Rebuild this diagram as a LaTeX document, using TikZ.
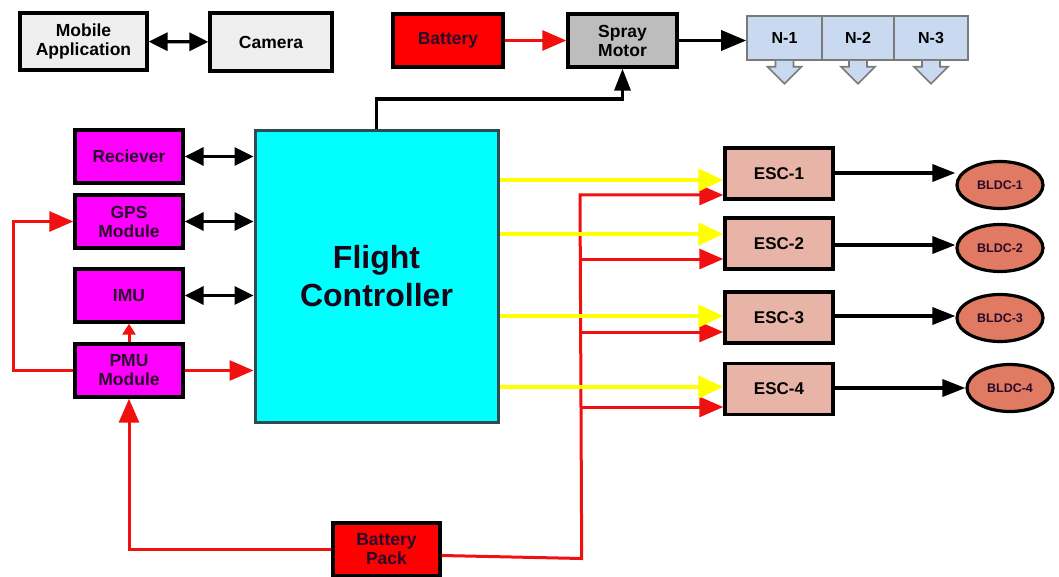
\documentclass[tikz,border=0pt]{standalone}
\usepackage{fontspec}
\setmainfont{Liberation Sans}
\usetikzlibrary{arrows.meta,shapes.geometric,calc}
\definecolor{boxgray}{HTML}{EFEFEF}
\definecolor{spraygray}{HTML}{BDBDBD}
\definecolor{nblue}{HTML}{C9DAF0}
\definecolor{nborder}{HTML}{7A7A7A}
\definecolor{magentabox}{HTML}{FF00FF}
\definecolor{fccyan}{HTML}{00FFFF}
\definecolor{fcborder}{HTML}{2E4A52}
\definecolor{escfill}{HTML}{E8B4A8}
\definecolor{bldcfill}{HTML}{E07A62}
\definecolor{redline}{HTML}{F01010}
\definecolor{yelline}{HTML}{FFFF00}
\definecolor{darktext}{HTML}{2A0A2A}
\begin{document}
\begin{tikzpicture}[x=1pt,y=-1pt,
  blockbox/.style={draw=black,line width=3.4pt,rectangle,inner sep=0pt,align=center,font=\bfseries\fontsize{17.5}{19}\selectfont},
  greybox/.style={blockbox,fill=boxgray},
  redbox/.style={blockbox,fill=red,text=darktext},
  purplebox/.style={blockbox,fill=magentabox,text=darktext},
  escbox/.style={blockbox,fill=escfill,minimum width=108pt,minimum height=51pt,font=\bfseries\fontsize{17}{19}\selectfont},
  bldc/.style={ellipse,draw=black,line width=3.2pt,fill=bldcfill,minimum width=86pt,minimum height=47pt,inner sep=0pt,font=\bfseries\fontsize{12.5}{14}\selectfont,text=darktext},
  nbox/.style={rectangle,draw=nborder,line width=1.6pt,fill=nblue,minimum height=44pt,inner sep=0pt,font=\bfseries\fontsize{16}{18}\selectfont},
  blk/.style={line width=3.4pt,draw=black,-{Triangle[length=23pt,width=17pt]}},
  dbl/.style={line width=3.4pt,draw=black,{Triangle[length=19pt,width=18pt]}-{Triangle[length=19pt,width=18pt]}},
  redar/.style={line width=3pt,draw=redline,-{Triangle[length=24pt,width=20pt]}},
  yelar/.style={line width=4.5pt,draw=yelline,-{Triangle[length=25pt,width=22pt]}},
]
\useasboundingbox (0,0) rectangle (1059,577);
% top row
\node[greybox,minimum width=127pt,minimum height=57pt] (mob) at (83.5,41.5) {Mobile\\Application};
\node[greybox,minimum width=122pt,minimum height=58pt] (cam) at (271,42) {Camera};
\node[redbox,minimum width=110pt,minimum height=53pt] (bat) at (448,40.5) {Battery};
\node[blockbox,fill=spraygray,minimum width=109pt,minimum height=53pt] (spray) at (622.5,40.5) {Spray\\Motor};
\node[nbox,minimum width=75pt] (n1) at (784.5,38) {N-1};
\node[nbox,minimum width=72pt] (n2) at (858,38) {N-2};
\node[nbox,minimum width=74pt] (n3) at (931,38) {N-3};
\foreach \n in {n1,n2,n3}{
  \draw[draw=nborder,fill=nblue,line width=1.6pt]
    ($(\n.south)+(-9,0)$) -- ++(0,6) -- ++(-8,0) -- ($(\n.south)+(0,23)$)
    -- ($(\n.south)+(17,6)$) -- ++(-8,0) -- ++(0,-6);
}
% left column
\node[purplebox,minimum width=108pt,minimum height=53pt] (rec) at (129,156.5) {Reciever};
\node[purplebox,minimum width=108pt,minimum height=53pt] (gps) at (129,221.5) {GPS\\Module};
\node[purplebox,minimum width=108pt,minimum height=53pt] (imu) at (129,295.5) {IMU};
\node[purplebox,minimum width=108pt,minimum height=53pt] (pmu) at (129,370.5) {PMU\\Module};
% flight controller
\node[rectangle,draw=fcborder,line width=3pt,fill=fccyan,minimum width=243pt,minimum height=291pt,align=center,
  font=\bfseries\fontsize{32}{38}\selectfont,text=darktext!60!black] (fc) at (376.5,276.5) {Flight\\Controller};
% ESCs and motors
\node[escbox] (esc1) at (779,173.5) {ESC-1};
\node[escbox] (esc2) at (779,243.5) {ESC-2};
\node[escbox] (esc3) at (779,317.5) {ESC-3};
\node[escbox] (esc4) at (779,389) {ESC-4};
\node[bldc] (m1) at (1000,185) {BLDC-1};
\node[bldc] (m2) at (1000,248) {BLDC-2};
\node[bldc] (m3) at (1000,318) {BLDC-3};
\node[bldc] (m4) at (1010,388) {BLDC-4};
% battery pack
\node[redbox,minimum width=107pt,minimum height=53pt] (bp) at (386.5,549.5) {Battery\\Pack};
% connectors top
\draw[dbl] (mob) -- (cam);
\draw[redar] (bat) -- (spray);
\draw[blk,-{Triangle[length=25pt,width=20pt]}] (spray) -- (spray -| n1.west);
\draw[blk,-{Triangle[length=22pt,width=16pt]}] (fc.north) -- (fc.north |- 0,99) -| (spray.south);
% left connectors
\draw[dbl] (rec) -- (rec -| fc.west);
\draw[dbl] (gps) -- (gps -| fc.west);
\draw[dbl] (imu) -- (imu -| fc.west);
\draw[redar] (pmu) -- (pmu -| fc.west);
\draw[line width=3pt,draw=redline,-{Triangle[length=11pt,width=13pt]}] (pmu.north) -- (imu.south);
\draw[redar] (pmu.west) -- ++(-60,0) |- (gps.west);
\draw[redar] (bp.west) -| (pmu.south);
% power bus
\coordinate (bus) at (580,195);
\draw[redar] ([yshift=-6pt]bp.east) -- ($(bp.east)+(140,9)$) -- (bus) -- (esc1.west |- bus);
\draw[redar] (bus |- 0,259) -- (esc2.west |- 0,259);
\draw[redar] (bus |- 0,332) -- (esc3.west |- 0,332);
\draw[redar] (bus |- 0,407) -- (esc4.west |- 0,407);
% control signals
\draw[yelar] (fc.east |- 0,180) -- (esc1.west |- 0,180);
\draw[yelar] (fc.east |- 0,234) -- (esc2.west |- 0,234);
\draw[yelar] (fc.east |- 0,316) -- (esc3.west |- 0,316);
\draw[yelar] (fc.east |- 0,387) -- (esc4.west |- 0,387);
% motor connections
\draw[blk] (esc1.east |- 0,173) -- (m1.west |- 0,173);
\draw[blk] (esc2.east |- 0,245) -- (m2.west |- 0,245);
\draw[blk] (esc3.east |- 0,316) -- (m3.west |- 0,316);
\draw[blk] (esc4.east |- 0,388) -- (m4.west |- 0,388);
\end{tikzpicture}
\end{document}
